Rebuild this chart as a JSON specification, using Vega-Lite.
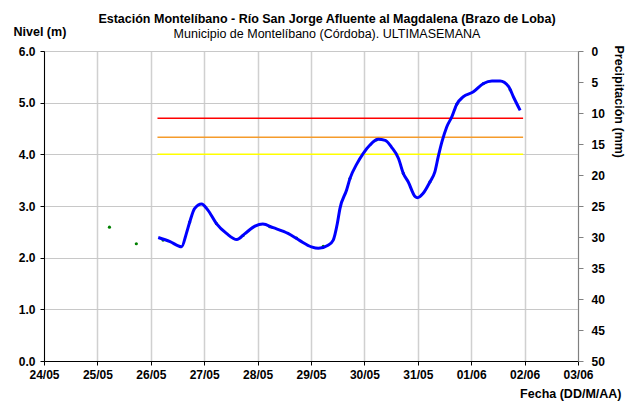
{
  "$schema": "https://vega.github.io/schema/vega-lite/v6.json",
  "width": 534,
  "height": 310,
  "autosize": "none",
  "padding": {"left": 44, "top": 51, "right": 48, "bottom": 46},
  "background": "white",
  "config": {
    "font": "Liberation Sans",
    "view": {"stroke": "#C0C0C0"},
    "axis": {
      "labelFont": "Liberation Sans",
      "labelFontSize": 12,
      "labelFontWeight": "bold",
      "labelColor": "black",
      "titleFont": "Liberation Sans",
      "titleFontSize": 12.5,
      "titleFontWeight": "bold",
      "titleColor": "black",
      "gridColor": "#C8C8C8",
      "gridWidth": 1
    }
  },
  "title": {
    "text": "Estación Montelíbano  - Río San Jorge Afluente al Magdalena (Brazo de Loba)",
    "subtitle": "Municipio de Montelíbano (Córdoba). ULTIMASEMANA",
    "font": "Liberation Sans",
    "fontSize": 12.5,
    "fontWeight": "bold",
    "color": "black",
    "subtitleFont": "Liberation Sans",
    "subtitleFontSize": 12.5,
    "subtitleColor": "black",
    "subtitlePadding": 2,
    "anchor": "middle",
    "offset": -15,
    "dx": 16
  },
  "datasets": {
    "linea": [
      {"fecha": "2011-05-26T03:20", "nivel": 2.39},
      {"fecha": "2011-05-26T08:40", "nivel": 2.31},
      {"fecha": "2011-05-26T13:50", "nivel": 2.21},
      {"fecha": "2011-05-26T16:00", "nivel": 2.47},
      {"fecha": "2011-05-26T17:30", "nivel": 2.69},
      {"fecha": "2011-05-26T19:40", "nivel": 2.95},
      {"fecha": "2011-05-26T22:50", "nivel": 3.04},
      {"fecha": "2011-05-27T01:40", "nivel": 2.92},
      {"fecha": "2011-05-27T05:30", "nivel": 2.66},
      {"fecha": "2011-05-27T10:00", "nivel": 2.47},
      {"fecha": "2011-05-27T14:40", "nivel": 2.35},
      {"fecha": "2011-05-27T18:10", "nivel": 2.46},
      {"fecha": "2011-05-27T22:50", "nivel": 2.61},
      {"fecha": "2011-05-28T02:20", "nivel": 2.65},
      {"fecha": "2011-05-28T07:00", "nivel": 2.58},
      {"fecha": "2011-05-28T13:40", "nivel": 2.47},
      {"fecha": "2011-05-28T19:00", "nivel": 2.33},
      {"fecha": "2011-05-29T00:10", "nivel": 2.21},
      {"fecha": "2011-05-29T03:20", "nivel": 2.18},
      {"fecha": "2011-05-29T07:40", "nivel": 2.24},
      {"fecha": "2011-05-29T10:00", "nivel": 2.34},
      {"fecha": "2011-05-29T11:50", "nivel": 2.66},
      {"fecha": "2011-05-29T13:00", "nivel": 2.95},
      {"fecha": "2011-05-29T16:00", "nivel": 3.31},
      {"fecha": "2011-05-29T17:30", "nivel": 3.53},
      {"fecha": "2011-05-29T20:40", "nivel": 3.82},
      {"fecha": "2011-05-29T23:30", "nivel": 4.02},
      {"fecha": "2011-05-30T02:30", "nivel": 4.18},
      {"fecha": "2011-05-30T06:10", "nivel": 4.29},
      {"fecha": "2011-05-30T09:20", "nivel": 4.27},
      {"fecha": "2011-05-30T12:10", "nivel": 4.14},
      {"fecha": "2011-05-30T15:20", "nivel": 3.92},
      {"fecha": "2011-05-30T17:30", "nivel": 3.63},
      {"fecha": "2011-05-30T19:40", "nivel": 3.47},
      {"fecha": "2011-05-30T22:50", "nivel": 3.18},
      {"fecha": "2011-05-30T23:50", "nivel": 3.16},
      {"fecha": "2011-05-31T02:20", "nivel": 3.24},
      {"fecha": "2011-05-31T05:30", "nivel": 3.47},
      {"fecha": "2011-05-31T07:40", "nivel": 3.66},
      {"fecha": "2011-05-31T09:10", "nivel": 3.95},
      {"fecha": "2011-05-31T10:50", "nivel": 4.24},
      {"fecha": "2011-05-31T13:00", "nivel": 4.53},
      {"fecha": "2011-05-31T15:20", "nivel": 4.73},
      {"fecha": "2011-05-31T17:30", "nivel": 4.97},
      {"fecha": "2011-05-31T20:20", "nivel": 5.11},
      {"fecha": "2011-06-01T01:00", "nivel": 5.21},
      {"fecha": "2011-06-01T05:30", "nivel": 5.37},
      {"fecha": "2011-06-01T09:20", "nivel": 5.42},
      {"fecha": "2011-06-01T13:00", "nivel": 5.42},
      {"fecha": "2011-06-01T16:50", "nivel": 5.31},
      {"fecha": "2011-06-01T19:00", "nivel": 5.11},
      {"fecha": "2011-06-01T22:00", "nivel": 4.85}
    ],
    "puntos": [
      {"fecha": "2011-05-25T05:25", "nivel": 2.59},
      {"fecha": "2011-05-25T17:30", "nivel": 2.27},
      {"fecha": "2011-05-26T05:30", "nivel": 2.34},
      {"fecha": "2011-05-26T17:30", "nivel": 2.69},
      {"fecha": "2011-05-27T05:30", "nivel": 2.66},
      {"fecha": "2011-05-27T17:30", "nivel": 2.43},
      {"fecha": "2011-05-28T05:30", "nivel": 2.6},
      {"fecha": "2011-05-28T17:30", "nivel": 2.38},
      {"fecha": "2011-05-29T05:30", "nivel": 2.22},
      {"fecha": "2011-05-29T17:30", "nivel": 3.53},
      {"fecha": "2011-05-30T05:30", "nivel": 4.28},
      {"fecha": "2011-05-30T17:30", "nivel": 3.63},
      {"fecha": "2011-05-31T05:30", "nivel": 3.47},
      {"fecha": "2011-05-31T17:30", "nivel": 4.97},
      {"fecha": "2011-06-01T05:30", "nivel": 5.37},
      {"fecha": "2011-06-01T17:30", "nivel": 5.25}
    ],
    "umbrales": [
      {"umbral": "rojo", "nivel": 4.7, "inicio": "2011-05-26T03:00", "fin": "2011-06-01T23:20"},
      {"umbral": "naranja", "nivel": 4.33, "inicio": "2011-05-26T03:00", "fin": "2011-06-01T23:20"},
      {"umbral": "amarillo", "nivel": 4.0, "inicio": "2011-05-26T03:00", "fin": "2011-06-01T23:20"}
    ],
    "precipitacion": [
      {"precipitacion": 0}
    ]
  },
  "layer": [
    {
      "layer": [
        {
          "data": {"name": "umbrales"},
          "mark": {"type": "rule", "strokeWidth": 1.5},
          "encoding": {
            "x": {
              "field": "inicio",
              "type": "temporal",
              "scale": {"domain": [{"year": 2011, "month": 5, "date": 24}, {"year": 2011, "month": 6, "date": 3}]},
              "axis": {
                "format": "%d/%m",
                "tickCount": {"interval": "day", "step": 1},
                "labelFlush": false,
                "labelOverlap": false,
                "labelPadding": 4,
                "tickSize": 4,
                "tickColor": "black",
                "domainColor": "black",
                "gridColor": "#D0D0D0",
                "gridWidth": 1.5,
                "title": "Fecha (DD/M/AA)",
                "titleAlign": "right",
                "titleBaseline": "alphabetic",
                "titleX": 577,
                "titleY": 36
              }
            },
            "x2": {"field": "fin"},
            "y": {
              "field": "nivel",
              "type": "quantitative",
              "scale": {"domain": [0, 6], "nice": false, "zero": true},
              "axis": {
                "values": [0, 0.5, 1, 1.5, 2, 2.5, 3, 3.5, 4, 4.5, 5, 5.5, 6],
                "labelExpr": "datum.value % 1 === 0 ? format(datum.value, '.1f') : ''",
                "tickOpacity": {"condition": {"test": "datum.value % 1 !== 0", "value": 0}, "value": 1},
                "tickSize": 4,
                "tickColor": "black",
                "domainColor": "black",
                "labelFlush": false,
                "labelOverlap": false,
                "labelPadding": 5,
                "title": "Nivel (m)",
                "titleAngle": 0,
                "titleAlign": "left",
                "titleBaseline": "alphabetic",
                "titleX": -31,
                "titleY": -16
              }
            },
            "color": {
              "field": "umbral",
              "type": "nominal",
              "scale": {"domain": ["rojo", "naranja", "amarillo"], "range": ["#FF0000", "#F59B2B", "#FFFF00"]},
              "legend": null
            }
          }
        },
        {
          "data": {"name": "puntos"},
          "mark": {"type": "circle", "size": 10, "color": "#008000", "opacity": 1},
          "encoding": {
            "x": {"field": "fecha", "type": "temporal"},
            "y": {"field": "nivel", "type": "quantitative"}
          }
        },
        {
          "data": {"name": "linea"},
          "mark": {"type": "line", "color": "#0000FF", "strokeWidth": 3, "interpolate": "monotone"},
          "encoding": {
            "x": {"field": "fecha", "type": "temporal"},
            "y": {"field": "nivel", "type": "quantitative"}
          }
        }
      ]
    },
    {
      "data": {"name": "precipitacion"},
      "mark": {"type": "point", "opacity": 0},
      "encoding": {
        "y": {
          "field": "precipitacion",
          "type": "quantitative",
          "scale": {"domain": [0, 50], "reverse": true, "nice": false},
          "axis": {
            "orient": "right",
            "values": [0, 5, 10, 15, 20, 25, 30, 35, 40, 45, 50],
            "grid": false,
            "tickSize": 5,
            "tickColor": "#808080",
            "domainColor": "#808080",
            "labelFlush": false,
            "labelOverlap": false,
            "labelPadding": 8,
            "labelAlign": "left",
            "title": "Precipitación (mm)",
            "titleAngle": 90,
            "titleAlign": "left",
            "titleBaseline": "alphabetic",
            "titleX": 36,
            "titleY": -6
          }
        }
      }
    }
  ],
  "resolve": {"scale": {"y": "independent"}}
}
